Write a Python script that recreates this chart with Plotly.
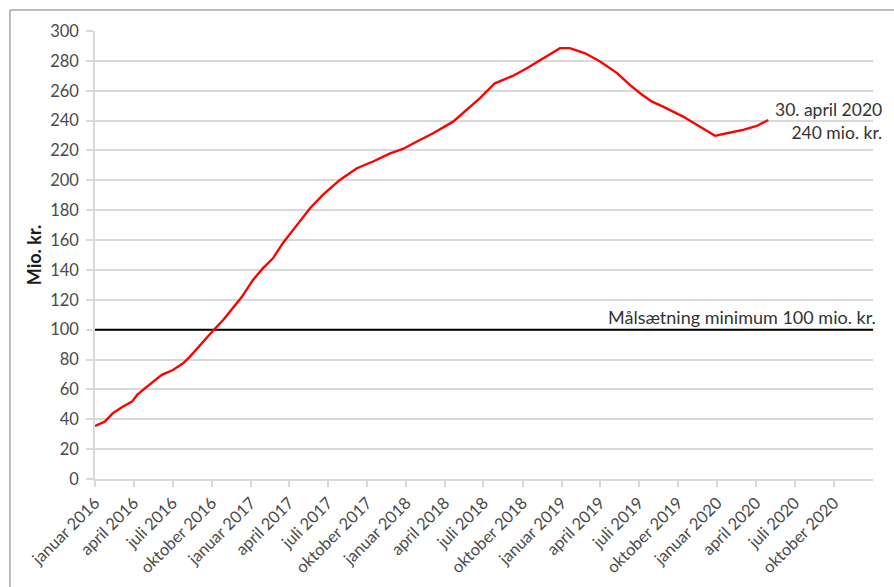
import plotly.graph_objects as go

# ---- data ----
dates = [
    "2016-01-01", "2016-01-24", "2016-02-12", "2016-03-04", "2016-03-28", "2016-04-09",
    "2016-04-27", "2016-05-16", "2016-06-06", "2016-07-02", "2016-07-26", "2016-08-11",
    "2016-09-04", "2016-10-04", "2016-10-28", "2016-11-20", "2016-12-11", "2017-01-06",
    "2017-01-29", "2017-02-22", "2017-03-17", "2017-04-19", "2017-05-20", "2017-06-19",
    "2017-07-29", "2017-09-07", "2017-10-15", "2017-11-24", "2017-12-24", "2018-01-26",
    "2018-03-05", "2018-04-21", "2018-05-23", "2018-06-23", "2018-07-28", "2018-09-08",
    "2018-10-11", "2018-11-27", "2018-12-28", "2019-01-20", "2019-02-25", "2019-04-01",
    "2019-05-11", "2019-06-10", "2019-07-04", "2019-08-01", "2019-08-27", "2019-10-13",
    "2019-11-22", "2019-12-27", "2020-01-24", "2020-03-02", "2020-04-03", "2020-04-30",
]
values = [
    35.5, 38.4, 44.0, 48.0, 51.8, 56.3,
    60.7, 65.2, 69.7, 73.0, 77.5, 82.0,
    89.8, 99.3, 106.5, 114.3, 122.0, 133.3,
    141.0, 147.8, 157.9, 170.0, 181.3, 190.2,
    200.3, 208.1, 212.6, 218.1, 221.0, 226.0,
    231.5, 239.3, 247.1, 255.0, 265.0, 269.9,
    275.0, 282.9, 288.5, 288.5, 285.1, 279.6,
    271.8, 263.9, 258.3, 252.7, 249.4, 242.7,
    236.0, 229.8, 231.5, 233.8, 236.4, 240.4,
]
target_value = 100
target_dates = ["2016-01-01", "2021-01-01"]

tick_dates = [
    "2016-01-01", "2016-04-01", "2016-07-01", "2016-10-01",
    "2017-01-01", "2017-04-01", "2017-07-01", "2017-10-01",
    "2018-01-01", "2018-04-01", "2018-07-01", "2018-10-01",
    "2019-01-01", "2019-04-01", "2019-07-01", "2019-10-01",
    "2020-01-01", "2020-04-01", "2020-07-01", "2020-10-01",
]
tick_labels = [
    "januar 2016", "april 2016", "juli 2016", "oktober 2016",
    "januar 2017", "april 2017", "juli 2017", "oktober 2017",
    "januar 2018", "april 2018", "juli 2018", "oktober 2018",
    "januar 2019", "april 2019", "juli 2019", "oktober 2019",
    "januar 2020", "april 2020", "juli 2020", "oktober 2020",
]
y_ticks = list(range(0, 301, 20))

FONT = "Lato"
GRID = "#d9d9d9"
TICKTXT = "#4a4a4a"
TXT = "#333333"

fig = go.Figure()
fig.add_trace(go.Scatter(
    x=target_dates, y=[target_value, target_value], mode="lines",
    line=dict(color="black", width=2), hoverinfo="skip",
))
fig.add_trace(go.Scatter(
    x=dates, y=values, mode="lines",
    line=dict(color="#ff0000", width=2.4), hoverinfo="skip",
))

fig.update_layout(
    width=894, height=587,
    margin=dict(l=95, r=21, t=31, b=108, autoexpand=False),
    paper_bgcolor="white", plot_bgcolor="white",
    showlegend=False,
    font=dict(family=FONT, color=TICKTXT, size=16),
    xaxis=dict(
        type="date", range=["2016-01-01", "2021-01-01"],
        tickmode="array", tickvals=tick_dates, ticktext=tick_labels,
        tickangle=-45, showgrid=False, zeroline=False, automargin=False,
        showline=True, linecolor=GRID, linewidth=1.5,
        ticks="outside", ticklen=6, tickcolor=GRID, tickwidth=1.5,
        tickfont=dict(family=FONT, size=16.5, color=TICKTXT),
    ),
    yaxis=dict(
        range=[0, 300], tickmode="array", tickvals=y_ticks, automargin=False,
        showgrid=True, gridcolor=GRID, gridwidth=1.5, zeroline=False,
        showline=True, linecolor=GRID, linewidth=1.5,
        ticks="outside", ticklen=7, tickcolor=GRID, tickwidth=1.5,
        ticklabelstandoff=4,
        tickfont=dict(family=FONT, size=16.5, color=TICKTXT),
        title=dict(text="<b>Mio. kr.</b>", font=dict(family=FONT, size=18, color="#1a1a1a"),
                   standoff=4),
    ),
    annotations=[
        dict(xref="paper", yref="y", x=1.014, y=240, xanchor="right", yanchor="middle",
             align="right", showarrow=False,
             text="30. april 2020<br>240 mio. kr.",
             font=dict(family=FONT, size=17.5, color=TXT)),
        dict(xref="paper", yref="y", x=1.006, y=target_value, xanchor="right", yanchor="bottom",
             showarrow=False, yshift=0,
             text="Målsætning minimum 100 mio. kr.",
             font=dict(family=FONT, size=18, color=TXT)),
    ],
    shapes=[
        dict(type="line", xref="paper", yref="paper", x0=-0.1093, x1=-0.1093, y0=1.0469, y1=-0.25,
             line=dict(color="#a6a6a6", width=1.5)),
        dict(type="line", xref="paper", yref="paper", x0=-0.1093, x1=1.03, y0=1.0469, y1=1.0469,
             line=dict(color="#a6a6a6", width=1.5)),
    ],
)

fig.write_html("out.html")
